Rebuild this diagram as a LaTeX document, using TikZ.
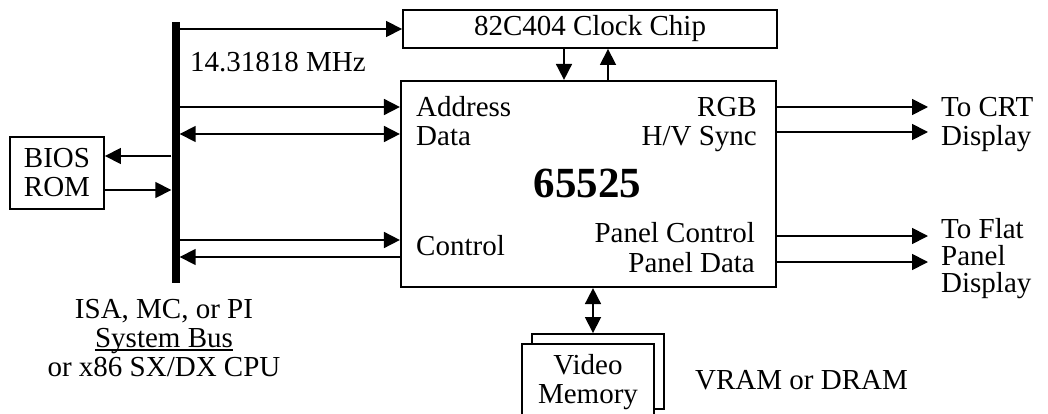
\documentclass[tikz,border=0pt]{standalone}
\usepackage{fontspec}
\setmainfont{Liberation Serif}
\usetikzlibrary{arrows.meta}
\begin{document}
\begin{tikzpicture}[x=1pt,y=-1pt,
  box/.style={draw, line width=1.9pt, rectangle, inner sep=0pt, fill=white},
  tip/.style={Triangle[length=16pt,width=16pt]},
  arr/.style={line width=1.7pt, -{Triangle[length=16pt,width=16pt]}},
  darr/.style={line width=1.7pt, {Triangle[length=16pt,width=16pt]}-{Triangle[length=16pt,width=16pt]}},
  lab/.style={inner sep=0pt, font=\fontsize{29}{29}\selectfont},
]
\useasboundingbox (0,0) rectangle (1048,414);
\clip (0,0) rectangle (1048,414);
% boxes
\node[box, minimum width=374pt, minimum height=38pt] (clock) at (590,29) {};
\node[lab] (clocklab) at (590,29) {82C404 Clock Chip};
\node[box, line width=2.2pt, minimum width=375pt, minimum height=206pt] (main) at (588.5,184) {};
\node[box, minimum width=94pt, minimum height=72pt] (bios) at (57,173) {};
\node[lab, align=center] (bioslab) at (57,173) {BIOS\\ROM};
\node[box, minimum width=132pt, minimum height=75pt] (vmback) at (598,371.5) {};
\node[box, minimum width=132pt, minimum height=100pt] (vmfront) at (588,394) {};
\node[lab, align=center] (vmlab) at (588,382) {Video\\Memory};
% bus
\node[fill=black, inner sep=0pt, minimum width=8pt, minimum height=261pt] (bus) at (175.5,152.5) {};
% labels
\node[lab, anchor=base west] (freq) at (190,72) {14.31818 MHz};
\node[lab, anchor=base west] (addr) at (416,117) {Address};
\node[lab, anchor=base west] (data) at (416,146) {Data};
\node[lab, anchor=base east] (rgb) at (757,117) {RGB};
\node[lab, anchor=base east] (sync) at (757,146) {H/V Sync};
\node[inner sep=0pt, anchor=base, font=\fontsize{43}{43}\selectfont\bfseries] (chip) at (587.5,197) {65525};
\node[lab, anchor=base west] (ctrl) at (416,255) {Control};
\node[lab, anchor=base east] (pctrl) at (755,242) {Panel Control};
\node[lab, anchor=base east] (pdata) at (755,272) {Panel Data};
\node[lab, anchor=base west] (crt1) at (941,117) {To CRT};
\node[lab, anchor=base west] (crt2) at (941,146) {Display};
\node[lab, anchor=base west] (fp1) at (941,238) {To Flat};
\node[lab, anchor=base west] (fp2) at (941,265) {Panel};
\node[lab, anchor=base west] (fp3) at (941,292) {Display};
\node[lab, anchor=base] (bus1) at (164,318) {ISA, MC, or PI};
\node[lab, anchor=base] (bus2) at (164,347) {System Bus};
\draw[line width=1.2pt] ([yshift=-3pt]bus2.base west) -- ([yshift=-3pt]bus2.base east);
\node[lab, anchor=base] (bus3) at (164,376) {or x86 SX/DX CPU};
\node[lab, anchor=base west] (vram) at (695,389) {VRAM or DRAM};
% end points of the outputs
\coordinate (e1) at (928,107);
\coordinate (e2) at (928,132);
\coordinate (e3) at (928,236);
\coordinate (e4) at (928,262);
% connectors
\draw[arr] (bus.east |- clock.west) -- (clock.west);
\draw[arr] (clock.south -| 564,0) -- (main.north -| 564,0);
\draw[arr] (main.north -| 608,0) -- (clock.south -| 608,0);
\draw[arr] (bus.east |- 0,107) -- (main.west |- 0,107);
\draw[darr] (bus.east |- 0,134) -- (main.west |- 0,134);
\draw[arr] (bus.west |- 0,156) -- (bios.east |- 0,156);
\draw[arr] (bios.east |- 0,190) -- (bus.west |- 0,190);
\draw[arr] (bus.east |- 0,240) -- (main.west |- 0,240);
\draw[arr] (main.west |- 0,257) -- (bus.east |- 0,257);
\draw[arr] (main.east |- e1) -- (e1);
\draw[arr] (main.east |- e2) -- (e2);
\draw[arr] (main.east |- e3) -- (e3);
\draw[arr] (main.east |- e4) -- (e4);
\draw[darr] (main.south -| 593,0) -- (vmback.north -| 593,0);
\end{tikzpicture}
\end{document}
